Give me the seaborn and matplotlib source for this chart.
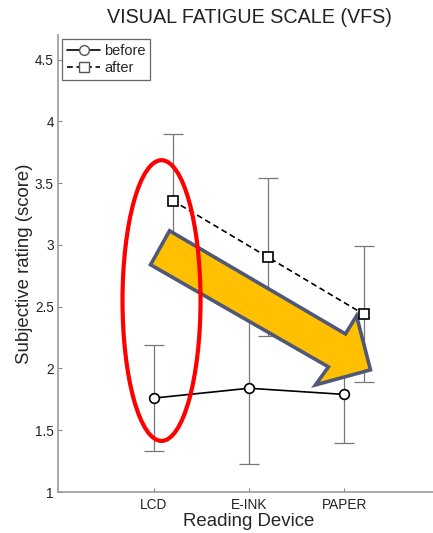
import numpy as np
import pandas as pd
import seaborn as sns
from matplotlib import pyplot as plt
from matplotlib.lines import Line2D
from matplotlib.patches import Ellipse, Polygon

devices = ["LCD", "E-INK", "PAPER"]
before_mean = [1.76, 1.84, 1.79]
before_sd = [0.43, 0.61, 0.39]
after_mean = [3.36, 2.90, 2.44]
after_sd = [0.54, 0.64, 0.55]

# the "after" series sits a little to the right of each device tick
after_offset = 0.2

sns.set_style("ticks")
plt.rcParams["font.family"] = ["Liberation Sans", "DejaVu Sans"]


def build_frame():
    pos = np.arange(1, len(devices) + 1)
    before = pd.DataFrame({"x": pos, "score": before_mean, "sd": before_sd, "phase": "before"})
    after = pd.DataFrame({"x": pos + after_offset, "score": after_mean, "sd": after_sd, "phase": "after"})
    return pd.concat([before, after], ignore_index=True), pos


def plot_fatigue(df, pos):
    fig = plt.figure(figsize=(4.33, 5.33), dpi=100)
    ax = fig.add_axes([58 / 433, 41 / 533, 382 / 433, 457 / 533])

    ax.errorbar(df["x"], df["score"], yerr=df["sd"], fmt="none", ecolor="#777777",
                elinewidth=0.9, capsize=7, capthick=0.9, zorder=1.5)

    sns.lineplot(
        data=df, x="x", y="score", style="phase",
        markers={"before": "o", "after": "s"},
        dashes={"before": "", "after": (3.5, 2.2)},
        color="black", linewidth=1.2, markersize=7,
        markerfacecolor="white", markeredgecolor="black", markeredgewidth=1.2,
        legend=False, ax=ax, zorder=4,
    )

    # yellow trend arrow (annotation, in data coordinates)
    arrow_pts = [(1.168, 3.115), (3.010, 2.280), (3.126, 2.426), (3.272, 1.989),
                 (2.696, 1.867), (2.832, 2.013), (0.969, 2.840)]
    ax.add_patch(Polygon(arrow_pts, closed=True, facecolor="#FFC000",
                         edgecolor="#4f5877", linewidth=2.6, joinstyle="miter", zorder=3))

    # red highlight around LCD
    ax.add_patch(Ellipse((1.084, 2.55), 0.817, 2.273, fill=False,
                         edgecolor="#ff0000", linewidth=3, zorder=5))

    ax.set_xlim(0, 4)
    ax.set_ylim(1, 4.7)
    ax.set_xticks(pos)
    ax.set_xticklabels(devices)
    ax.set_yticks([1, 1.5, 2, 2.5, 3, 3.5, 4, 4.5])
    ax.set_yticklabels(["1", "1.5", "2", "2.5", "3", "3.5", "4", "4.5"])
    ax.tick_params(direction="in", length=3, width=0.8, color="#888888",
                   labelsize=9.8, labelcolor="#222222")
    ax.tick_params(axis="x", pad=4)
    ax.tick_params(axis="y", pad=3)

    sns.despine(ax=ax)
    for side in ["left", "bottom"]:
        ax.spines[side].set_color("#999999")
        ax.spines[side].set_linewidth(1.2)

    ax.set_xlabel("Reading Device", fontsize=13.4, labelpad=1)
    ax.set_ylabel("Subjective rating (score)", fontsize=13.4, labelpad=1.5)
    ax.set_title("VISUAL FATIGUE SCALE (VFS)", fontsize=14.2, pad=9, color="#222222")

    handles = [
        Line2D([], [], color="black", linewidth=1.2, marker="o", markersize=7,
               markerfacecolor="white", markeredgecolor="#555555", label="before"),
        Line2D([], [], color="black", linewidth=1.2, linestyle=(0, (3.5, 2.2)), marker="s",
               markersize=6.5, markerfacecolor="white", markeredgecolor="#555555", label="after"),
    ]
    leg = ax.legend(handles=handles, loc="upper left", fontsize=10.5, frameon=True,
                    fancybox=False, framealpha=1, edgecolor="#666666",
                    borderaxespad=0.3, handlelength=2.3, handletextpad=0.25,
                    labelspacing=0.25, borderpad=0.3)
    leg.get_frame().set_linewidth(0.9)
    return fig


def main():
    df, pos = build_frame()
    fig = plot_fatigue(df, pos)
    fig.savefig("out.png", dpi=100)


if __name__ == "__main__":
    main()
